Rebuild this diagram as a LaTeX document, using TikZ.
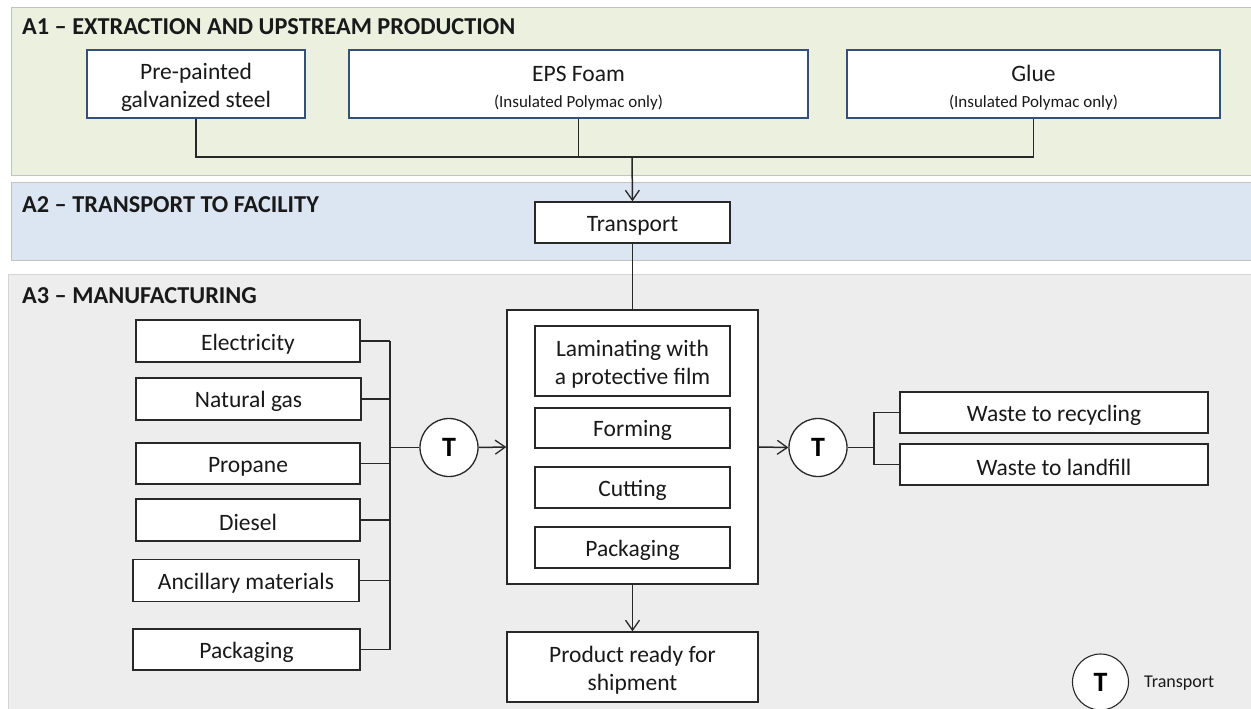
\documentclass[tikz,border=0pt]{standalone}
\usepackage{fontspec}
\setmainfont{Carlito}
\usetikzlibrary{arrows.meta}
\definecolor{bandA}{RGB}{235,240,223}
\definecolor{bandB}{RGB}{220,230,242}
\definecolor{bandC}{RGB}{237,237,237}
\definecolor{bandline}{RGB}{195,195,195}
\definecolor{blueline}{RGB}{50,80,120}
\definecolor{lineg}{RGB}{40,40,40}
\newcommand\dn[1]{\rule{0pt}{#1pt}}
\begin{document}
\begin{tikzpicture}[x=1pt,y=-1pt,
  band/.style={draw=bandline, line width=0.9pt},
  head/.style={anchor=base west, inner sep=0pt, font=\fontsize{24.3}{28}\selectfont\bfseries, text=black!90},
  box/.style={draw=lineg, fill=white, line width=1.4pt, inner sep=0pt, align=center, text=black!90,
    font=\fontsize{23.5}{28}\selectfont},
  upbox/.style={box, draw=blueline},
  tcirc/.style={circle, draw=lineg, fill=white, line width=1.3pt, minimum size=58pt, inner sep=0pt,
    font=\fontsize{28}{28}\selectfont\bfseries},
  conn/.style={draw=lineg, line width=1.5pt},
  arr/.style={conn, -{Straight Barb[length=10pt,width=14pt,line width=1.3pt]}}
]
\useasboundingbox (0,0) rectangle (1251,709);
\begin{scope}
\clip (0,0) rectangle (1251,709);
% bands
\path[band, fill=bandA] (11,7) rectangle (1256,175);
\path[band, fill=bandB] (11,182) rectangle (1256,260);
\path[band, fill=bandC, draw=bandline!70] (8,274) rectangle (1256,714);
\node[head] (h1) at (22,35) {A1 -- EXTRACTION AND UPSTREAM PRODUCTION};
\node[head] (h2) at (22,212) {A2 -- TRANSPORT TO FACILITY};
\node[head] (h3) at (22,303) {A3 -- MANUFACTURING};

% A1 boxes
\node[upbox, minimum width=218pt, minimum height=68pt] (steel) at (196,84) {\dn{24}Pre-painted\\galvanized steel};
\node[upbox, minimum width=459pt, minimum height=68pt] (eps) at (578.5,84) {\dn{23}EPS Foam\\[-2pt]{\fontsize{17}{20}\selectfont (Insulated Polymac only)}};
\node[upbox, minimum width=373pt, minimum height=68pt] (glue) at (1033.5,84) {\dn{23}Glue\\[-2pt]{\fontsize{17}{20}\selectfont (Insulated Polymac only)}};

% A2
\node[box, minimum width=195pt, minimum height=41pt] (transport) at (632.5,222.5) {\dn{21}Transport};
\coordinate (jn) at (632,157);
\draw[conn] (steel.south) |- (glue.south |- jn) -- (glue.south);
\draw[conn] (eps.south) -- (eps.south |- jn);
\draw[arr] (jn) -- (transport.north);

% A3 main
\node[box, minimum width=251pt, minimum height=274pt] (main) at (632.5,447) {};
\node[box, minimum width=195pt, minimum height=70pt] (lam) at (632.5,361) {\dn{22}Laminating with\\a protective film};
\node[box, minimum width=195pt, minimum height=40pt] (form) at (632.5,428) {\dn{22}Forming};
\node[box, minimum width=195pt, minimum height=41pt] (cut) at (632.5,487.5) {\dn{22}Cutting};
\node[box, minimum width=195pt, minimum height=41pt] (packin) at (632.5,547.5) {\dn{22}Packaging};
\node[box, minimum width=251pt, minimum height=70pt] (prod) at (632.5,667) {\dn{22}Product ready for\\shipment};
\draw[conn] (transport.south) -- (main.north);
\draw[arr] (main.south) -- (prod.north);

% inputs
\node[box, minimum width=224pt, minimum height=42pt] (elec) at (248,341) {\dn{22}Electricity};
\node[box, minimum width=225pt, minimum height=42pt] (gas) at (248.5,399) {\dn{22}Natural gas};
\node[box, minimum width=224pt, minimum height=41pt] (prop) at (248,463.5) {\dn{22}Propane};
\node[box, minimum width=224pt, minimum height=42pt] (dies) at (248,520) {\dn{22}Diesel};
\node[box, minimum width=226pt, minimum height=42pt] (anc) at (246,580.5) {\dn{22}Ancillary materials};
\node[box, minimum width=227pt, minimum height=41pt] (packout) at (246.5,649.5) {\dn{22}Packaging};
\coordinate (bus) at (390,447.5);
\node[tcirc] (t1) at (449,447.5) {T};
\foreach \n in {elec,gas,prop,dies,anc,packout}{
  \draw[conn] (\n.east) -- (\n.east -| bus);
}
\draw[conn] (elec.east -| bus) -- (packout.east -| bus);
\draw[conn, line width=2.3pt] (bus) -- (anc.east -| bus);
\draw[conn] (bus) -- (t1.west);
\draw[arr] (t1.east) -- (main.west);

% outputs
\node[tcirc] (t2) at (818,447.5) {T};
\draw[arr] (main.east) -- (t2.west);
\node[box, minimum width=308pt, minimum height=41pt] (recy) at (1054,412.5) {\dn{22}Waste to recycling};
\node[box, minimum width=308pt, minimum height=41pt] (land) at (1054,464.5) {\dn{22}Waste to landfill};
\coordinate (rj) at (874,447.5);
\draw[conn] (t2.east) -- (rj);
\draw[conn] (recy.west) -| (rj);
\draw[conn] (land.west) -| (rj);

% legend
\node[tcirc, line width=1.1pt, minimum size=56pt] (tl) at (1100.5,682) {T};
\node[anchor=west, inner sep=0pt, font=\fontsize{18}{20}\selectfont, text=black!90] (tlt) at (1144,683) {Transport};
\end{scope}
\end{tikzpicture}
\end{document}
